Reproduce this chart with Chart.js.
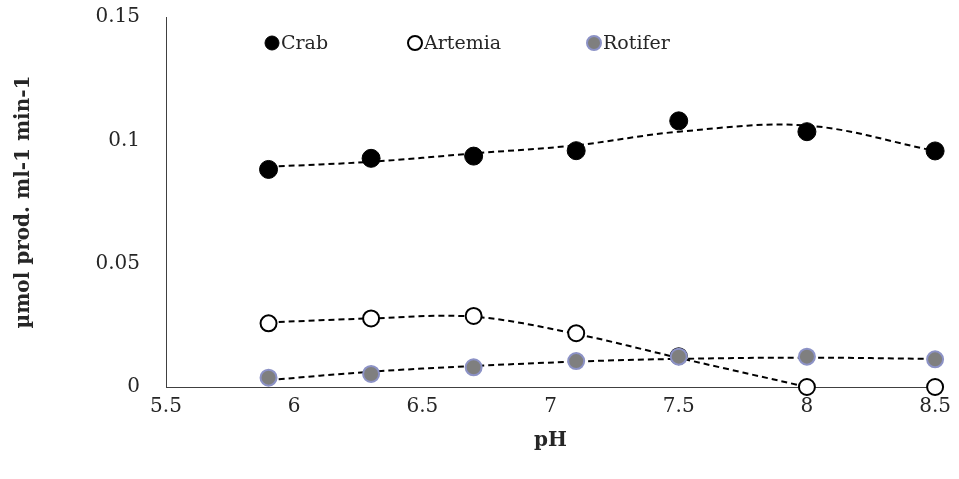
<!DOCTYPE html>
<html>
<head>
<meta charset="utf-8">
<script src="https://cdn.jsdelivr.net/npm/chart.js@4/dist/chart.umd.min.js"></script>
<style>
  html, body { margin: 0; padding: 0; background: #fff; }
  #wrap { width: 959px; height: 479px; }
</style>
</head>
<body>
<div id="wrap"><canvas id="chart" width="959" height="479"></canvas></div>
<script>
// pH values where samples were taken
const phValues = [5.9, 6.3, 6.7, 7.1, 7.5, 8.0, 8.5];

// measured activity, µmol prod. ml-1 min-1
const crab = [0.0882, 0.0927, 0.0936, 0.0958, 0.1079, 0.1035, 0.0957];
const artemia = [0.0258, 0.0278, 0.0288, 0.0218, 0.0125, 0.0, 0.0];
const rotifer = [0.0038, 0.0053, 0.0080, 0.0105, 0.0123, 0.0123, 0.0112];

// dashed trend lines
const crabTrend = [0.0893, 0.0913, 0.0947, 0.0980, 0.1035, 0.1060, 0.0957];
const artemiaTrend = [0.0262, 0.0278, 0.0285, 0.0215, 0.0118, 0.0];
const rotiferTrend = [0.0028, 0.0062, 0.0085, 0.0103, 0.0114, 0.0119, 0.0114];

const xTicks = [5.5, 6, 6.5, 7, 7.5, 8, 8.5];
const yTicks = [0, 0.05, 0.1, 0.15];

const FONT = "'DejaVu Serif', serif";
const TEXT = '#262626';

function pts(ys) {
  return ys.map((y, i) => ({ x: phValues[i], y }));
}

function trend(ys) {
  return {
    data: pts(ys),
    showLine: true,
    borderColor: '#000',
    borderWidth: 2,
    borderDash: [6, 4],
    pointRadius: 0,
    tension: 0.35,
    fill: false,
    clip: false,
    order: 5
  };
}

const series = [
  { label: 'Crab', data: pts(crab), backgroundColor: '#000', borderColor: '#000', borderWidth: 1, pointRadius: 9, clip: false, order: 3 },
  { label: 'Artemia', data: pts(artemia), backgroundColor: '#fff', borderColor: '#000', borderWidth: 2, pointRadius: 8, clip: false, order: 2 },
  { label: 'Rotifer', data: pts(rotifer), backgroundColor: '#7f7f7f', borderColor: '#8c92c6', borderWidth: 2, pointRadius: 8, clip: false, order: 1 }
];

// legend drawn inside the plot, near the top
const inlineLegend = {
  id: 'inlineLegend',
  afterDraw(chart) {
    const ctx = chart.ctx;
    const spots = [272, 415, 594];
    const y = 43;
    ctx.save();
    ctx.font = '19px ' + FONT;
    ctx.textBaseline = 'middle';
    series.forEach((s, i) => {
      ctx.beginPath();
      ctx.arc(spots[i], y, 7, 0, Math.PI * 2);
      ctx.fillStyle = s.backgroundColor;
      ctx.fill();
      ctx.lineWidth = s.borderWidth;
      ctx.strokeStyle = s.borderColor;
      ctx.stroke();
      ctx.fillStyle = TEXT;
      ctx.fillText(s.label, spots[i] + 9, y + 1);
    });
    ctx.restore();
  }
};

const fmt = v => String(+Number(v).toFixed(2));

new Chart(document.getElementById('chart'), {
  type: 'scatter',
  data: {
    datasets: [
      ...series,
      trend(crabTrend),
      trend(artemiaTrend),
      trend(rotiferTrend)
    ]
  },
  options: {
    responsive: false,
    animation: false,
    layout: { padding: { top: 0, right: 21, left: 0, bottom: 0 } },
    plugins: {
      legend: { display: false },
      tooltip: { enabled: false }
    },
    scales: {
      x: {
        type: 'linear',
        min: xTicks[0],
        max: xTicks[xTicks.length - 1],
        afterBuildTicks: s => { s.ticks = xTicks.map(v => ({ value: v })); },
        afterFit: s => { s.height = 92; },
        grid: { display: false, drawTicks: false },
        border: { color: '#404040', width: 1 },
        ticks: { color: TEXT, font: { family: FONT, size: 20 }, padding: 8, callback: fmt },
        title: { display: true, text: 'pH', color: TEXT, font: { family: FONT, size: 20, weight: 'bold' }, padding: { top: 4, bottom: 26 } }
      },
      y: {
        min: yTicks[0],
        max: yTicks[yTicks.length - 1],
        afterBuildTicks: s => { s.ticks = yTicks.map(v => ({ value: v })); },
        afterFit: s => { s.width = 166; },
        grid: { display: false, drawOnChartArea: false, drawTicks: true, tickLength: 21, tickColor: 'rgba(0,0,0,0)' },
        border: { color: '#404040', width: 1 },
        ticks: { color: TEXT, font: { family: FONT, size: 20 }, padding: 5, callback: fmt },
        title: { display: true, text: 'µmol prod. ml-1 min-1', color: TEXT, font: { family: FONT, size: 20, weight: 'bold' }, padding: { top: 12, bottom: 4 } }
      }
    }
  },
  plugins: [inlineLegend]
});
</script>
</body>
</html>
